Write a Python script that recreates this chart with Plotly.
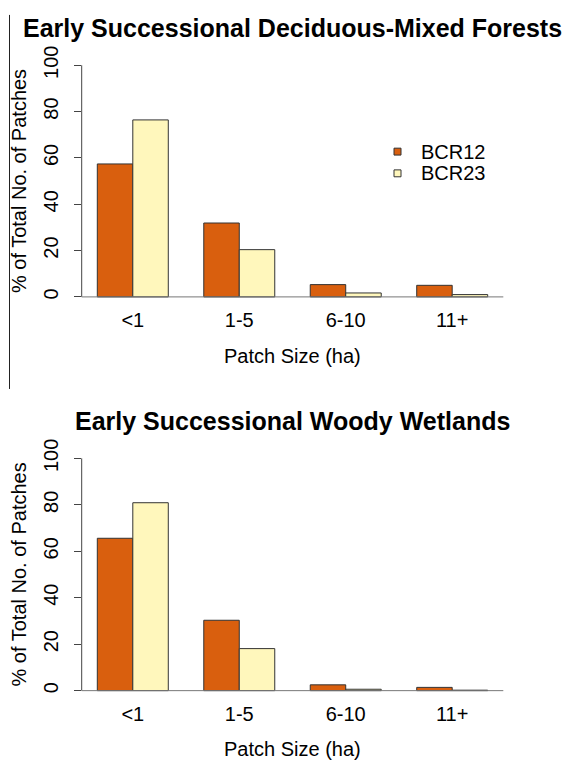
import plotly.graph_objects as go

# Patch-size classes and percentage of patches per region
categories = ["<1", "1-5", "6-10", "11+"]
series_names = ["BCR12", "BCR23"]
forest_bcr12 = [57.4, 31.9, 5.3, 5.0]
forest_bcr23 = [76.4, 20.4, 1.7, 1.0]
wetland_bcr12 = [65.6, 30.3, 2.5, 1.4]
wetland_bcr23 = [80.9, 18.1, 0.6, 0.2]
panel_titles = ["Early Successional Deciduous-Mixed Forests",
                "Early Successional Woody Wetlands"]
y_ticks = [0, 20, 40, 60, 80, 100]
x_title = "Patch Size (ha)"
y_title = "% of Total No. of Patches"

colors = ["#D95F0E", "#FFF7BC"]
edge = "#333333"
FONT = "Liberation Sans, Arial, Helvetica, sans-serif"
W, H = 563, 763

# pixel layout of the two panels (left, right, top of y=104, bottom of y=-4)
px_left, px_right = 81.7, 503.3
panels = [
    dict(top=46.6, bottom=300.1, data=[forest_bcr12, forest_bcr23]),
    dict(top=444.9, bottom=699.1, data=[wetland_bcr12, wetland_bcr23]),
]

fig = go.Figure()
annotations = []
shapes = []

for i, p in enumerate(panels):
    xa = "x" if i == 0 else f"x{i + 1}"
    ya = "y" if i == 0 else f"y{i + 1}"
    for name, vals, col in zip(series_names, p["data"], colors):
        fig.add_trace(go.Bar(
            x=categories, y=vals, name=name, xaxis=xa, yaxis=ya,
            marker=dict(color=col, line=dict(color=edge, width=1)),
            showlegend=False, hoverinfo="x+y+name",
        ))
    dom_y = [1 - p["bottom"] / H, 1 - p["top"] / H]
    xkey = "xaxis" if i == 0 else f"xaxis{i + 1}"
    ykey = "yaxis" if i == 0 else f"yaxis{i + 1}"
    fig.update_layout({
        xkey: dict(domain=[px_left / W, px_right / W], anchor=ya,
                   type="category", range=[-0.48, 3.48],
                   showline=False, showgrid=False, zeroline=False, ticks="",
                   tickfont=dict(size=20, color="black", family=FONT),
                   ticklabelstandoff=0),
        ykey: dict(domain=dom_y, anchor=xa, range=[-4, 104],
                   tickvals=y_ticks, ticktext=[str(v) for v in y_ticks],
                   showline=False, showgrid=False, zeroline=False,
                   ticks="outside", ticklen=7, tickwidth=1, tickcolor="#444",
                   tickangle=-90, ticklabelstandoff=8,
                   tickfont=dict(size=20, color="black", family=FONT)),
    })
    xd = ("x" if i == 0 else f"x{i + 1}") + " domain"
    # y axis line spanning the tick range, and the zero baseline
    shapes.append(dict(type="line", xref=xd, yref=ya, x0=0, x1=0,
                       y0=y_ticks[0], y1=y_ticks[-1],
                       line=dict(color="#444", width=1)))
    shapes.append(dict(type="line", xref=xd, yref=ya, x0=0, x1=1,
                       y0=0, y1=0, line=dict(color="#777", width=1)))
    # titles
    mid_x = (px_left + px_right) / 2 / W
    annotations.append(dict(
        text=f"<b>{panel_titles[i]}</b>", xref="paper", yref="paper",
        x=mid_x, y=1 - (p["top"] - 28.0) / H, xanchor="center",
        yanchor="middle", showarrow=False,
        font=dict(size=25, color="black", family=FONT)))
    annotations.append(dict(
        text=x_title, xref="paper", yref="paper", x=mid_x,
        y=1 - (p["bottom"] + 50.0) / H, xanchor="center", yanchor="middle",
        showarrow=False, font=dict(size=20, color="black", family=FONT)))
    annotations.append(dict(
        text=y_title, xref="paper", yref="paper", x=19 / W,
        y=1 - (p["top"] + p["bottom"]) / 2 / H, xanchor="center",
        yanchor="middle", textangle=-90, showarrow=False,
        font=dict(size=20, color="black", family=FONT)))

# legend for the upper panel
leg_rows = [143.5, 165.5]
for name, col, yc in zip(series_names, colors, leg_rows):
    shapes.append(dict(type="rect", xref="paper", yref="paper",
                       x0=394 / W, x1=401 / W,
                       y0=1 - (yc + 3.5) / H, y1=1 - (yc - 3.5) / H,
                       fillcolor=col, line=dict(color=edge, width=1)))
    annotations.append(dict(
        text=name, xref="paper", yref="paper", x=419 / W, y=1 - yc / H,
        xanchor="left", yanchor="middle", showarrow=False,
        font=dict(size=20, color="black", family=FONT)))

# thin frame rule down the left edge of the upper panel
shapes.append(dict(type="line", xref="paper", yref="paper",
                   x0=9.5 / W, x1=9.5 / W, y0=1 - 384 / H, y1=1 - 5 / H,
                   line=dict(color="#222", width=1)))

fig.update_layout(
    width=W, height=H, margin=dict(l=0, r=0, t=0, b=0),
    paper_bgcolor="white", plot_bgcolor="white",
    barmode="group", bargap=1 / 3, bargroupgap=0,
    showlegend=False, annotations=annotations, shapes=shapes,
    font=dict(family=FONT),
)

fig.write_html("out.html")
